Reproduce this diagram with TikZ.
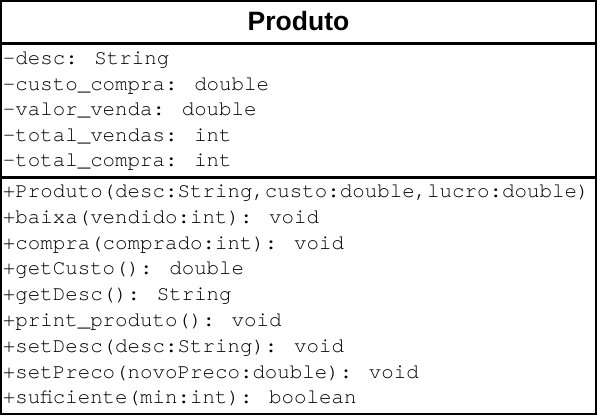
\documentclass[tikz,border=0pt]{standalone}
\usepackage{fontspec}
\newfontfamily\membfont{TeX Gyre Cursor}
\newfontfamily\titlefont{Liberation Sans}
\tikzset{
  member/.style={anchor=base west, inner sep=0pt, font=\membfont\fontsize{10.4pt}{12pt}\selectfont},
  classname/.style={anchor=base, inner sep=0pt, font=\titlefont\bfseries\fontsize{13.25pt}{15pt}\selectfont}
}
\begin{document}
\begin{tikzpicture}[x=0.5pt,y=-0.5pt]
      \useasboundingbox (0,0) rectangle (597,416);
      \draw[draw=black, line width=1pt] (1,1) rectangle (595.5,414);
      \draw[draw=black, line width=1.5pt] (1,43.5) -- (595.5,43.5);
      \draw[draw=black, line width=1.5pt] (1,177.5) -- (595.5,177.5);
      \node[classname] (title) at (298.5,31) {Produto};
      \node[member] (desc) at (2.5,65) {-desc: String};
      \node[member] (custo) at (2.5,90.4) {-custo\_compra: double};
      \node[member] (valor) at (2.5,115.8) {-valor\_venda: double};
      \node[member] (tvendas) at (2.5,141.2) {-total\_vendas: int};
      \node[member] (tcompra) at (2.5,166.6) {-total\_compra: int};
      \node[member] (ctor) at (2.5,197.5) {+Produto(desc:String,custo:double,lucro:double)};
      \node[member] (baixa) at (2.5,223.3) {+baixa(vendido:int): void};
      \node[member] (compra) at (2.5,249.1) {+compra(comprado:int): void};
      \node[member] (getcusto) at (2.5,274.9) {+getCusto(): double};
      \node[member] (getdesc) at (2.5,300.7) {+getDesc(): String};
      \node[member] (print) at (2.5,326.5) {+print\_produto(): void};
      \node[member] (setdesc) at (2.5,352.3) {+setDesc(desc:String): void};
      \node[member] (setpreco) at (2.5,378.1) {+setPreco(novoPreco:double): void};
      \node[member] (suf) at (2.5,403.9) {+suficiente(min:int): boolean};
    \end{tikzpicture}
\end{document}
